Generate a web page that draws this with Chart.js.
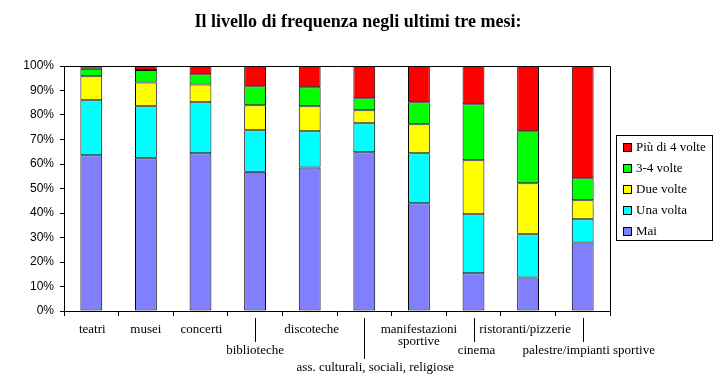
<!DOCTYPE html>
<html>
<head>
<meta charset="utf-8">
<script src="https://cdn.jsdelivr.net/npm/chart.js@4/dist/chart.umd.min.js"></script>
<style>
  body { margin: 0; background: #fff; }
  #wrap { width: 720px; height: 386px; }
</style>
</head>
<body>
<div id="wrap"><canvas id="freqChart" width="720" height="386"></canvas></div>
<script>
// Dati (percentuali)
const categories = ["teatri", "musei", "concerti", "biblioteche", "discoteche",
  "ass. culturali, sociali, religiose", ["manifestazioni", "sportive"], "cinema",
  "ristoranti/pizzerie", "palestre/impianti sportive"];
const seriesNames = ["Mai", "Una volta", "Due volte", "3-4 volte", "Più di 4 volte"];
const mai      = [63.6, 62.3, 64.4, 56.8, 58.6, 64.8, 44.0, 15.4, 13.7, 28.0];
const unaVolta = [22.4, 21.3, 20.8, 17.0, 14.8, 11.8, 20.4, 24.1, 17.6,  9.4];
const dueVolte = [ 9.8,  9.7,  7.3, 10.2, 10.2,  5.3, 11.8, 22.0, 20.8,  7.8];
const treQuattro = [3.1, 5.1,  4.1,  7.7,  7.7,  4.9,  9.0, 22.9, 21.3,  9.0];
const piuDi4   = [ 1.1,  1.6,  3.4,  8.3,  8.7, 13.2, 14.8, 15.6, 26.6, 45.8];
const yTicks = [0, 10, 20, 30, 40, 50, 60, 70, 80, 90, 100];

const colors = ["#8080ff", "#00ffff", "#ffff00", "#00ff00", "#ff0000"];
const allSeries = [mai, unaVolta, dueVolte, treQuattro, piuDi4];

// Etichette sfalsate come nell'originale
const labelRow = [0, 0, 0, 1, 0, 2, 0, 1, 0, 1];
const labelShift = [1, 0, 1, 0, 2, 11, 0, 3, -3, 6];
const rowY = [330, 351, 368];

const serif = "'Liberation Serif', 'Times New Roman', serif";

const extras = {
  id: "extras",
  afterDraw(chart) {
    const ctx = chart.ctx;
    const area = chart.chartArea;
    const xs = chart.scales.x;
    ctx.save();

    // bordo area grafico
    ctx.strokeStyle = "#000";
    ctx.lineWidth = 1;
    ctx.beginPath();
    ctx.moveTo(area.left, area.top + 0.5);
    ctx.lineTo(area.right + 0.5, area.top + 0.5);
    ctx.lineTo(area.right + 0.5, area.bottom);
    ctx.stroke();

    // titolo
    ctx.fillStyle = "#000";
    ctx.font = "bold 18px " + serif;
    ctx.textAlign = "center";
    ctx.textBaseline = "middle";
    ctx.fillText("Il livello di frequenza negli ultimi tre mesi:", 358, 22);

    // etichette asse x
    ctx.font = "13px " + serif;
    categories.forEach((lab, i) => {
      const cx = xs.getPixelForValue(i);
      const y = rowY[labelRow[i]];
      const lines = Array.isArray(lab) ? lab : [lab];
      lines.forEach((t, k) => ctx.fillText(t, cx + labelShift[i], y + k * 12));
      if (labelRow[i] > 0) {
        ctx.beginPath();
        ctx.moveTo(Math.round(cx) + 0.5, area.bottom + 7);
        ctx.lineTo(Math.round(cx) + 0.5, y - 9);
        ctx.stroke();
      }
    });

    // legenda
    const lx = 616, ly = 135, lw = 96, lh = 105;
    ctx.strokeRect(lx + 0.5, ly + 0.5, lw, lh);
    ctx.textAlign = "left";
    for (let k = 0; k < seriesNames.length; k++) {
      const s = seriesNames.length - 1 - k;
      const yy = ly + 12 + k * 21;
      ctx.fillStyle = colors[s];
      ctx.fillRect(lx + 7, yy - 4, 9, 9);
      ctx.strokeRect(lx + 7.5, yy - 3.5, 8, 8);
      ctx.fillStyle = "#000";
      ctx.fillText(seriesNames[s], lx + 20, yy + 1);
    }
    ctx.restore();
  }
};

new Chart(document.getElementById("freqChart"), {
  type: "bar",
  data: {
    labels: categories,
    datasets: allSeries.map((vals, i) => ({
      label: seriesNames[i],
      data: vals,
      backgroundColor: colors[i],
      borderColor: "#000",
      borderWidth: 1,
      borderSkipped: false,
      barPercentage: 0.4,
      categoryPercentage: 1.0
    }))
  },
  options: {
    responsive: false,
    animation: false,
    layout: { padding: { top: 66, right: 110, left: 0, bottom: 0 } },
    scales: {
      x: {
        stacked: true,
        afterFit: s => { s.height = 75; },
        ticks: { display: false },
        grid: { drawOnChartArea: false, tickLength: 5, color: "#000" },
        border: { color: "#000", width: 1 }
      },
      y: {
        stacked: true,
        min: 0,
        max: 100,
        afterFit: s => { s.width = 64; },
        afterBuildTicks: s => { s.ticks = yTicks.map(v => ({ value: v })); },
        ticks: {
          callback: v => v + "%",
          color: "#000",
          padding: 6,
          font: { family: "'Liberation Sans', Arial, sans-serif", size: 12 }
        },
        grid: { drawOnChartArea: false, tickLength: 4, color: "#000" },
        border: { color: "#000", width: 1 }
      }
    },
    plugins: {
      legend: { display: false },
      title: { display: false },
      tooltip: { enabled: false }
    }
  },
  plugins: [extras]
});
</script>
</body>
</html>
